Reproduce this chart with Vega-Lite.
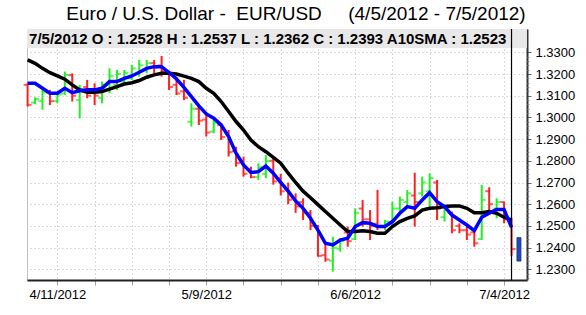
{
  "$schema": "https://vega.github.io/schema/vega-lite/v6.json",
  "width": 500,
  "height": 251,
  "autosize": "none",
  "padding": {"left": 27, "top": 29, "right": 59, "bottom": 35},
  "background": "white",
  "config": {
    "view": {"stroke": "#c0c0c0", "strokeWidth": 1},
    "font": "Liberation Sans"
  },
  "title": {
    "text": "Euro / U.S. Dollar -\u00a0 EUR/USD \u00a0\u00a0\u00a0\u00a0(4/5/2012 - 7/5/2012)",
    "fontSize": 19,
    "font": "Liberation Sans",
    "fontWeight": "normal",
    "color": "#000000",
    "anchor": "middle",
    "dx": 19,
    "dy": 16.5,
    "offset": 6,
    "baseline": "alphabetic"
  },
  "datasets": {
    "ohlc": [
      {"d": "4/5/2012", "o": 1.3150, "h": 1.3157, "l": 1.3050, "c": 1.3058, "b": 1.3157, "k": 1.3265},
      {"d": "4/6/2012", "o": 1.3068, "h": 1.3092, "l": 1.3060, "c": 1.3085, "b": 1.3157, "k": 1.3249},
      {"d": "4/9/2012", "o": 1.3075, "h": 1.3127, "l": 1.3035, "c": 1.3115, "b": 1.3134, "k": 1.3226},
      {"d": "4/10/2012", "o": 1.3115, "h": 1.3127, "l": 1.3057, "c": 1.3075, "b": 1.3111, "k": 1.3206},
      {"d": "4/11/2012", "o": 1.3075, "h": 1.3111, "l": 1.3065, "c": 1.3105, "b": 1.3111, "k": 1.3191},
      {"d": "4/12/2012", "o": 1.3110, "h": 1.3211, "l": 1.3104, "c": 1.3195, "b": 1.3134, "k": 1.3176},
      {"d": "4/13/2012", "o": 1.3195, "h": 1.3203, "l": 1.3073, "c": 1.3100, "b": 1.3114, "k": 1.3150},
      {"d": "4/16/2012", "o": 1.3080, "h": 1.3150, "l": 1.2996, "c": 1.3130, "b": 1.3123, "k": 1.3127},
      {"d": "4/17/2012", "o": 1.3140, "h": 1.3173, "l": 1.3088, "c": 1.3100, "b": 1.3127, "k": 1.3116},
      {"d": "4/18/2012", "o": 1.3120, "h": 1.3157, "l": 1.3057, "c": 1.3100, "b": 1.3127, "k": 1.3116},
      {"d": "4/19/2012", "o": 1.3090, "h": 1.3165, "l": 1.3065, "c": 1.3150, "b": 1.3134, "k": 1.3119},
      {"d": "4/20/2012", "o": 1.3130, "h": 1.3226, "l": 1.3111, "c": 1.3190, "b": 1.3165, "k": 1.3130},
      {"d": "4/23/2012", "o": 1.3150, "h": 1.3219, "l": 1.3126, "c": 1.3200, "b": 1.3165, "k": 1.3142},
      {"d": "4/24/2012", "o": 1.3165, "h": 1.3219, "l": 1.3157, "c": 1.3205, "b": 1.3180, "k": 1.3154},
      {"d": "4/25/2012", "o": 1.3180, "h": 1.3242, "l": 1.3173, "c": 1.3225, "b": 1.3191, "k": 1.3160},
      {"d": "4/26/2012", "o": 1.3200, "h": 1.3265, "l": 1.3188, "c": 1.3240, "b": 1.3208, "k": 1.3170},
      {"d": "4/27/2012", "o": 1.3220, "h": 1.3265, "l": 1.3203, "c": 1.3250, "b": 1.3226, "k": 1.3185},
      {"d": "4/30/2012", "o": 1.3250, "h": 1.3265, "l": 1.3203, "c": 1.3230, "b": 1.3234, "k": 1.3196},
      {"d": "5/1/2012", "o": 1.3240, "h": 1.3283, "l": 1.3188, "c": 1.3215, "b": 1.3234, "k": 1.3203},
      {"d": "5/2/2012", "o": 1.3200, "h": 1.3211, "l": 1.3126, "c": 1.3140, "b": 1.3207, "k": 1.3203},
      {"d": "5/3/2012", "o": 1.3150, "h": 1.3188, "l": 1.3103, "c": 1.3110, "b": 1.3177, "k": 1.3200},
      {"d": "5/4/2012", "o": 1.3120, "h": 1.3173, "l": 1.3080, "c": 1.3090, "b": 1.3138, "k": 1.3190},
      {"d": "5/7/2012", "o": 1.2980, "h": 1.3065, "l": 1.2958, "c": 1.3040, "b": 1.3096, "k": 1.3180},
      {"d": "5/8/2012", "o": 1.3040, "h": 1.3057, "l": 1.2965, "c": 1.2985, "b": 1.3053, "k": 1.3165},
      {"d": "5/9/2012", "o": 1.2990, "h": 1.3019, "l": 1.2912, "c": 1.2930, "b": 1.3016, "k": 1.3134},
      {"d": "5/10/2012", "o": 1.2935, "h": 1.2988, "l": 1.2927, "c": 1.2975, "b": 1.2996, "k": 1.3111},
      {"d": "5/11/2012", "o": 1.2965, "h": 1.2973, "l": 1.2896, "c": 1.2910, "b": 1.2965, "k": 1.3073},
      {"d": "5/14/2012", "o": 1.2930, "h": 1.2942, "l": 1.2820, "c": 1.2840, "b": 1.2912, "k": 1.3027},
      {"d": "5/15/2012", "o": 1.2845, "h": 1.2865, "l": 1.2773, "c": 1.2790, "b": 1.2835, "k": 1.2981},
      {"d": "5/16/2012", "o": 1.2800, "h": 1.2819, "l": 1.2727, "c": 1.2740, "b": 1.2781, "k": 1.2942},
      {"d": "5/17/2012", "o": 1.2760, "h": 1.2773, "l": 1.2720, "c": 1.2725, "b": 1.2746, "k": 1.2896},
      {"d": "5/18/2012", "o": 1.2725, "h": 1.2789, "l": 1.2712, "c": 1.2770, "b": 1.2750, "k": 1.2865},
      {"d": "5/21/2012", "o": 1.2740, "h": 1.2827, "l": 1.2720, "c": 1.2800, "b": 1.2776, "k": 1.2842},
      {"d": "5/22/2012", "o": 1.2800, "h": 1.2819, "l": 1.2690, "c": 1.2705, "b": 1.2743, "k": 1.2816},
      {"d": "5/23/2012", "o": 1.2720, "h": 1.2740, "l": 1.2640, "c": 1.2660, "b": 1.2700, "k": 1.2789},
      {"d": "5/24/2012", "o": 1.2670, "h": 1.2700, "l": 1.2600, "c": 1.2620, "b": 1.2660, "k": 1.2743},
      {"d": "5/25/2012", "o": 1.2630, "h": 1.2650, "l": 1.2560, "c": 1.2590, "b": 1.2615, "k": 1.2700},
      {"d": "5/28/2012", "o": 1.2610, "h": 1.2627, "l": 1.2527, "c": 1.2560, "b": 1.2581, "k": 1.2660},
      {"d": "5/29/2012", "o": 1.2560, "h": 1.2573, "l": 1.2481, "c": 1.2500, "b": 1.2535, "k": 1.2630},
      {"d": "5/30/2012", "o": 1.2495, "h": 1.2504, "l": 1.2358, "c": 1.2362, "b": 1.2481, "k": 1.2598},
      {"d": "5/31/2012", "o": 1.2365, "h": 1.2412, "l": 1.2335, "c": 1.2345, "b": 1.2420, "k": 1.2566},
      {"d": "6/1/2012", "o": 1.2340, "h": 1.2450, "l": 1.2289, "c": 1.2400, "b": 1.2412, "k": 1.2535},
      {"d": "6/4/2012", "o": 1.2395, "h": 1.2443, "l": 1.2381, "c": 1.2430, "b": 1.2435, "k": 1.2504},
      {"d": "6/5/2012", "o": 1.2470, "h": 1.2497, "l": 1.2404, "c": 1.2430, "b": 1.2443, "k": 1.2474},
      {"d": "6/6/2012", "o": 1.2440, "h": 1.2581, "l": 1.2435, "c": 1.2560, "b": 1.2497, "k": 1.2474},
      {"d": "6/7/2012", "o": 1.2580, "h": 1.2619, "l": 1.2497, "c": 1.2530, "b": 1.2515, "k": 1.2478},
      {"d": "6/8/2012", "o": 1.2530, "h": 1.2573, "l": 1.2435, "c": 1.2500, "b": 1.2512, "k": 1.2474},
      {"d": "6/11/2012", "o": 1.2510, "h": 1.2666, "l": 1.2481, "c": 1.2500, "b": 1.2497, "k": 1.2466},
      {"d": "6/12/2012", "o": 1.2495, "h": 1.2527, "l": 1.2481, "c": 1.2520, "b": 1.2497, "k": 1.2466},
      {"d": "6/13/2012", "o": 1.2510, "h": 1.2612, "l": 1.2497, "c": 1.2580, "b": 1.2520, "k": 1.2497},
      {"d": "6/14/2012", "o": 1.2580, "h": 1.2635, "l": 1.2558, "c": 1.2620, "b": 1.2558, "k": 1.2520},
      {"d": "6/15/2012", "o": 1.2610, "h": 1.2666, "l": 1.2589, "c": 1.2650, "b": 1.2589, "k": 1.2535},
      {"d": "6/18/2012", "o": 1.2640, "h": 1.2745, "l": 1.2497, "c": 1.2610, "b": 1.2581, "k": 1.2546},
      {"d": "6/19/2012", "o": 1.2650, "h": 1.2727, "l": 1.2635, "c": 1.2700, "b": 1.2619, "k": 1.2573},
      {"d": "6/20/2012", "o": 1.2660, "h": 1.2742, "l": 1.2589, "c": 1.2720, "b": 1.2653, "k": 1.2581},
      {"d": "6/21/2012", "o": 1.2700, "h": 1.2712, "l": 1.2527, "c": 1.2580, "b": 1.2612, "k": 1.2584},
      {"d": "6/22/2012", "o": 1.2540, "h": 1.2589, "l": 1.2520, "c": 1.2575, "b": 1.2589, "k": 1.2589},
      {"d": "6/25/2012", "o": 1.2560, "h": 1.2566, "l": 1.2466, "c": 1.2480, "b": 1.2550, "k": 1.2592},
      {"d": "6/26/2012", "o": 1.2500, "h": 1.2512, "l": 1.2466, "c": 1.2480, "b": 1.2527, "k": 1.2592},
      {"d": "6/27/2012", "o": 1.2480, "h": 1.2497, "l": 1.2435, "c": 1.2460, "b": 1.2504, "k": 1.2581},
      {"d": "6/28/2012", "o": 1.2470, "h": 1.2481, "l": 1.2404, "c": 1.2420, "b": 1.2478, "k": 1.2561},
      {"d": "6/29/2012", "o": 1.2440, "h": 1.2689, "l": 1.2435, "c": 1.2620, "b": 1.2540, "k": 1.2561},
      {"d": "7/2/2012", "o": 1.2660, "h": 1.2678, "l": 1.2566, "c": 1.2600, "b": 1.2558, "k": 1.2566},
      {"d": "7/3/2012", "o": 1.2580, "h": 1.2627, "l": 1.2535, "c": 1.2610, "b": 1.2576, "k": 1.2558},
      {"d": "7/4/2012", "o": 1.2610, "h": 1.2612, "l": 1.2512, "c": 1.2530, "b": 1.2576, "k": 1.2540},
      {"d": "7/5/2012", "o": 1.2528, "h": 1.2537, "l": 1.2362, "c": 1.2393, "b": 1.2493, "k": 1.2527}
    ],
    "header": [
      {"d": "4/5/2012", "label": "7/5/2012  O : 1.2528  H : 1.2537  L : 1.2362  C : 1.2393  A10SMA : 1.2523"}
    ],
    "marker": [
      {"d": "7/6/2012", "lo": 1.2338, "hi": 1.2446}
    ],
    "cursor": [
      {"d": "7/5/2012"}
    ]
  },
  "resolve": {"axis": {"y": "independent"}},
  "layer": [
    {
      "data": {"name": "ohlc"},
      "mark": {"type": "rule", "strokeWidth": 2},
      "encoding": {
        "x": {
          "field": "d",
          "type": "nominal",
          "sort": null,
          "scale": {
            "type": "point",
            "padding": 0.08,
            "domain": ["4/5/2012","4/6/2012","4/9/2012","4/10/2012","4/11/2012","4/12/2012","4/13/2012","4/16/2012","4/17/2012","4/18/2012","4/19/2012","4/20/2012","4/23/2012","4/24/2012","4/25/2012","4/26/2012","4/27/2012","4/30/2012","5/1/2012","5/2/2012","5/3/2012","5/4/2012","5/7/2012","5/8/2012","5/9/2012","5/10/2012","5/11/2012","5/14/2012","5/15/2012","5/16/2012","5/17/2012","5/18/2012","5/21/2012","5/22/2012","5/23/2012","5/24/2012","5/25/2012","5/28/2012","5/29/2012","5/30/2012","5/31/2012","6/1/2012","6/4/2012","6/5/2012","6/6/2012","6/7/2012","6/8/2012","6/11/2012","6/12/2012","6/13/2012","6/14/2012","6/15/2012","6/18/2012","6/19/2012","6/20/2012","6/21/2012","6/22/2012","6/25/2012","6/26/2012","6/27/2012","6/28/2012","6/29/2012","7/2/2012","7/3/2012","7/4/2012","7/5/2012","7/6/2012","7/9/2012"]
          },
          "axis": {
            "title": null,
            "values": ["4/11/2012","4/18/2012","4/25/2012","5/2/2012","5/9/2012","5/16/2012","5/23/2012","5/30/2012","6/6/2012","6/13/2012","6/20/2012","6/27/2012","7/4/2012"],
            "labelExpr": "indexof(['4/11/2012','5/9/2012','6/6/2012','7/4/2012'], datum.value) >= 0 ? datum.value : ''",
            "labelAngle": 0,
            "labelFont": "Liberation Sans",
            "labelFontSize": 13,
            "labelColor": "#000000",
            "labelPadding": 3,
            "grid": true,
            "gridColor": "#b4b4b4",
            "gridDash": [1, 3],
            "gridWidth": 1,
            "domainColor": "#222222",
            "domainWidth": 2,
            "tickColor": "#a0a0a0",
            "tickSize": 5,
            "tickWidth": 1
          }
        },
        "y": {
          "field": "l",
          "type": "quantitative",
          "scale": {"domain": [1.22507, 1.34074], "zero": false, "nice": false},
          "axis": {
            "orient": "right",
            "title": null,
            "values": [1.23, 1.24, 1.25, 1.26, 1.27, 1.28, 1.29, 1.30, 1.31, 1.32, 1.33],
            "format": ".4f",
            "labelFont": "Liberation Sans",
            "labelFontSize": 13,
            "labelColor": "#000000",
            "labelPadding": 4,
            "grid": true,
            "gridColor": "#b4b4b4",
            "gridDash": [1, 3],
            "gridWidth": 1,
            "domainColor": "#333333",
            "domainWidth": 2,
            "tickColor": "#666666",
            "tickSize": 4
          }
        },
        "y2": {"field": "h"},
        "color": {
          "condition": {"test": "datum.c >= datum.o", "value": "#22ee22"},
          "value": "#ff2020"
        }
      }
    },
    {
      "data": {"name": "ohlc"},
      "mark": {"type": "tick", "size": 4, "thickness": 2, "xOffset": -2},
      "encoding": {
        "x": {"field": "d", "type": "nominal", "sort": null},
        "y": {"field": "o", "type": "quantitative", "axis": null},
        "color": {
          "condition": {"test": "datum.c >= datum.o", "value": "#22ee22"},
          "value": "#ff2020"
        }
      }
    },
    {
      "data": {"name": "ohlc"},
      "mark": {"type": "tick", "size": 4, "thickness": 2, "xOffset": 2},
      "encoding": {
        "x": {"field": "d", "type": "nominal", "sort": null},
        "y": {
          "field": "c",
          "type": "quantitative",
          "axis": {
            "orient": "right",
            "title": null,
            "values": [1.226,1.228,1.232,1.234,1.236,1.238,1.242,1.244,1.246,1.248,1.252,1.254,1.256,1.258,1.262,1.264,1.266,1.268,1.272,1.274,1.276,1.278,1.282,1.284,1.286,1.288,1.292,1.294,1.296,1.298,1.302,1.304,1.306,1.308,1.312,1.314,1.316,1.318,1.322,1.324,1.326,1.328],
            "labels": false,
            "grid": false,
            "domain": false,
            "ticks": true,
            "tickSize": 2,
            "tickColor": "#888888"
          }
        },
        "color": {
          "condition": {"test": "datum.c >= datum.o", "value": "#22ee22"},
          "value": "#ff2020"
        }
      }
    },
    {
      "data": {"name": "ohlc"},
      "mark": {"type": "line", "color": "#000000", "strokeWidth": 3.5},
      "encoding": {
        "x": {"field": "d", "type": "nominal", "sort": null},
        "y": {"field": "k", "type": "quantitative", "axis": null},
        "order": {"value": null}
      }
    },
    {
      "data": {"name": "ohlc"},
      "mark": {"type": "line", "color": "#0000ff", "strokeWidth": 3.5},
      "encoding": {
        "x": {"field": "d", "type": "nominal", "sort": null},
        "y": {"field": "b", "type": "quantitative", "axis": null},
        "order": {"value": null}
      }
    },
    {
      "data": {"name": "marker"},
      "mark": {"type": "bar", "width": 4, "color": "#1f45e0", "stroke": "#1b3a2a", "strokeWidth": 0.8},
      "encoding": {
        "x": {"field": "d", "type": "nominal", "sort": null},
        "y": {"field": "lo", "type": "quantitative", "axis": null},
        "y2": {"field": "hi"}
      }
    },
    {
      "data": {"name": "header"},
      "mark": {"type": "rect", "color": "#e8e8e8"},
      "encoding": {
        "y": {"datum": 1.34074, "type": "quantitative", "axis": null},
        "y2": {"datum": 1.33198}
      }
    },
    {
      "data": {"name": "header"},
      "mark": {"type": "text", "align": "left", "baseline": "middle", "dx": 1.5, "font": "Liberation Sans", "fontSize": 15, "fontWeight": "bold", "color": "#000000"},
      "encoding": {
        "x": {"field": "d", "type": "nominal", "sort": null},
        "y": {"datum": 1.33636, "type": "quantitative", "axis": null},
        "text": {"field": "label"}
      }
    },
    {
      "data": {"name": "cursor"},
      "mark": {"type": "rule", "color": "#000000", "strokeWidth": 1.2},
      "encoding": {
        "x": {"field": "d", "type": "nominal", "sort": null}
      }
    }
  ]
}
